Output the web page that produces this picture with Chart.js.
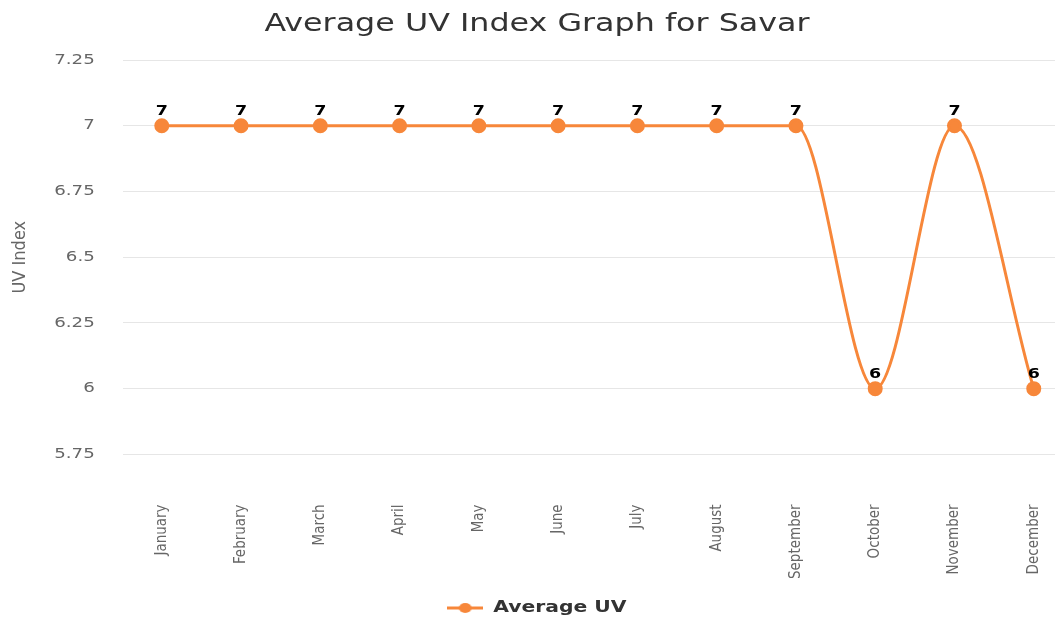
<!DOCTYPE html>
<html>
<head>
<meta charset="utf-8">
<script src="https://cdn.jsdelivr.net/npm/chart.js@4/dist/chart.umd.min.js"></script>
<style>
  html, body { margin: 0; padding: 0; background: #ffffff; }
  #wrap { width: 1064px; height: 619px; }
</style>
</head>
<body>
<div id="wrap"><canvas id="c"></canvas></div>
<script>
const chartTitle = 'Average UV Index Graph for Savar';
const categories = ['January', 'February', 'March', 'April', 'May', 'June', 'July', 'August', 'September', 'October', 'November', 'December'];
const uvValues = [7, 7, 7, 7, 7, 7, 7, 7, 7, 6, 7, 6];
const yTickValues = [5.75, 6, 6.25, 6.5, 6.75, 7, 7.25];
const seriesName = 'Average UV';
const yAxisTitle = 'UV Index';

const ORANGE = '#f7873a';

// legend symbol: line with a circle
const sym = document.createElement('canvas');
sym.width = 28; sym.height = 12;
(function () {
  const g = sym.getContext('2d');
  g.strokeStyle = ORANGE; g.lineWidth = 3;
  g.beginPath(); g.moveTo(0, 6); g.lineTo(28, 6); g.stroke();
  g.fillStyle = ORANGE;
  g.beginPath(); g.arc(14, 6, 5, 0, Math.PI * 2); g.fill();
})();

// horizontally widen text drawn by a chart component (the original is stretched sideways)
function widen(obj, method, sx, cxFn, dy) {
  if (!obj || obj['__w_' + method]) return;
  obj['__w_' + method] = true;
  const orig = obj[method];
  obj[method] = function (...args) {
    const ctx = this.ctx;
    const cx = cxFn(this);
    ctx.save();
    ctx.translate(cx, dy || 0);
    ctx.scale(sx, 1);
    ctx.translate(-cx, 0);
    const r = orig.apply(this, args);
    ctx.restore();
    return r;
  };
}

const widenPlugin = {
  id: 'widen',
  beforeDraw(chart) {
    widen(chart.titleBlock, 'draw', 1.27, b => (b.left + b.right) / 2, 0);
    widen(chart.legend, 'draw', 1.27, b => (b.left + b.right) / 2, 7);
    widen(chart.scales.y, 'drawLabels', 1.3, s => s.right - s.options.ticks.padding, 0);
  }
};

const dataLabels = {
  id: 'dataLabels',
  afterDatasetsDraw(chart) {
    const ctx = chart.ctx;
    const meta = chart.getDatasetMeta(0);
    ctx.save();
    ctx.font = 'bold 14px "DejaVu Sans"';
    ctx.fillStyle = '#000000';
    ctx.textAlign = 'center';
    ctx.textBaseline = 'alphabetic';
    meta.data.forEach((pt, i) => {
      ctx.save();
      ctx.translate(pt.x, pt.y - 11);
      ctx.scale(1.25, 1);
      ctx.fillText(String(chart.data.datasets[0].data[i]), 0, 0);
      ctx.restore();
    });
    ctx.restore();
  }
};

new Chart(document.getElementById('c'), {
  type: 'line',
  data: {
    labels: categories,
    datasets: [{
      label: seriesName,
      data: uvValues,
      borderColor: ORANGE,
      backgroundColor: ORANGE,
      pointBackgroundColor: ORANGE,
      pointBorderColor: ORANGE,
      pointRadius: 6,
      pointHoverRadius: 6,
      borderWidth: 3,
      cubicInterpolationMode: 'monotone',
      fill: false,
      pointStyle: 'circle'
    }]
  },
  options: {
    responsive: true,
    maintainAspectRatio: false,
    animation: false,
    layout: { padding: { left: 10, right: 0, top: 4, bottom: 0 } },
    plugins: {
      title: {
        display: true,
        text: chartTitle,
        color: '#333333',
        font: { family: '"DejaVu Sans"', size: 25, weight: 'normal' },
        padding: { top: 5, bottom: 21 }
      },
      legend: {
        position: 'bottom',
        labels: {
          usePointStyle: true,
          pointStyle: sym,
          pointStyleWidth: 28,
          color: '#333333',
          font: { family: '"DejaVu Sans"', size: 16, weight: 'bold' },
          padding: 4,
          generateLabels(chart) {
            return [{
              text: seriesName,
              fillStyle: ORANGE,
              strokeStyle: ORANGE,
              pointStyle: sym,
              datasetIndex: 0,
              fontColor: '#333333',
              lineWidth: 0
            }];
          }
        }
      },
      tooltip: { enabled: false }
    },
    scales: {
      x: {
        type: 'category',
        offset: true,
        afterBuildTicks(scale) {
          // category centres: first one half a step in, steps ~79px, plot runs past the right edge
          scale._startValue = -0.492;
          scale._valueRange = 11.76;
        },
        grid: { display: true, drawOnChartArea: false, drawTicks: true, tickLength: 40, tickColor: 'rgba(0,0,0,0)' },
        border: { display: false },
        ticks: {
          color: '#666666',
          font: { family: '"Liberation Sans Narrow", "DejaVu Sans Condensed"', size: 15 },
          minRotation: 90,
          maxRotation: 90,
          padding: 10,
          autoSkip: false
        }
      },
      y: {
        min: 5.75,
        max: 7.25,
        afterBuildTicks(scale) { scale.ticks = yTickValues.map(v => ({ value: v })); },
        grid: { color: '#e6e6e6', lineWidth: 1, drawTicks: false },
        border: { display: false },
        ticks: {
          color: '#666666',
          font: { family: '"DejaVu Sans"', size: 14 },
          padding: 28,
          callback: v => String(v)
        },
        title: {
          display: true,
          text: yAxisTitle,
          color: '#666666',
          font: { family: '"Liberation Sans Narrow", "DejaVu Sans Condensed"', size: 18 },
          padding: { top: 0, bottom: 4 }
        }
      }
    }
  },
  plugins: [dataLabels, widenPlugin]
});
</script>
</body>
</html>
